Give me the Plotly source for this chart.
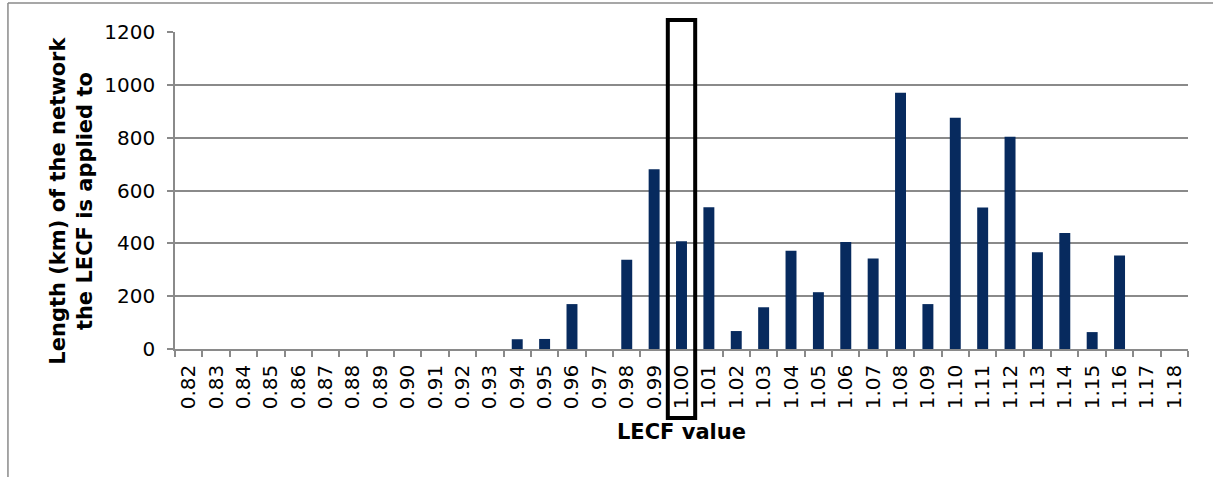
import plotly.graph_objects as go

# LECF values (categories) and network length in km for each
lecf_values = ["0.82", "0.83", "0.84", "0.85", "0.86", "0.87", "0.88", "0.89",
               "0.90", "0.91", "0.92", "0.93", "0.94", "0.95", "0.96", "0.97",
               "0.98", "0.99", "1.00", "1.01", "1.02", "1.03", "1.04", "1.05",
               "1.06", "1.07", "1.08", "1.09", "1.10", "1.11", "1.12", "1.13",
               "1.14", "1.15", "1.16", "1.17", "1.18"]
length_km = [0, 0, 0, 0, 0, 0, 0, 0,
             0, 0, 0, 0, 37, 38, 170, 0,
             338, 680, 408, 537, 68, 158, 372, 215,
             405, 343, 970, 170, 875, 536, 803, 366,
             439, 64, 354, 0, 0]
y_ticks = [0, 200, 400, 600, 800, 1000, 1200]
highlight = "1.00"

GRID = "#8a8a8a"
FONT = "DejaVu Sans"

fig = go.Figure(go.Bar(
    x=lecf_values,
    y=length_km,
    marker=dict(color="#072a5e", line=dict(width=0)),
))

hi = lecf_values.index(highlight)

fig.update_layout(
    width=1213, height=477,
    margin=dict(l=175, r=25, t=32, b=128),
    paper_bgcolor="white", plot_bgcolor="white",
    bargap=0.6,
    showlegend=False,
    font=dict(family=FONT, size=20, color="black"),
    xaxis=dict(
        type="category",
        tickangle=-90,
        tickson="boundaries",
        ticks="outside", ticklen=6, tickcolor=GRID, tickwidth=1.5,
        ticklabelstandoff=6,
        showline=True, linecolor=GRID, linewidth=1.5,
        showgrid=False,
        tickfont=dict(family=FONT, size=20),
        title=dict(text="<b>LECF value</b>", font=dict(family=FONT, size=21), standoff=16),
        automargin=False,
    ),
    yaxis=dict(
        range=[0, 1200],
        tickvals=y_ticks,
        ticks="outside", ticklen=6, tickcolor=GRID, tickwidth=1.5,
        ticklabelstandoff=8,
        showline=True, linecolor=GRID, linewidth=1.5,
        showgrid=True, gridcolor=GRID, gridwidth=1.5,
        zeroline=False,
        tickfont=dict(family=FONT, size=20),
        automargin=False,
    ),
    annotations=[
        # y-axis title
        dict(text="<b>Length (km) of the network<br>the LECF is applied to</b>",
             xref="paper", yref="paper", x=-0.102, y=0.467,
             xanchor="center", yanchor="middle", textangle=-90,
             showarrow=False, font=dict(family=FONT, size=21)),
    ],
    shapes=[
        # frame highlighting the LECF = 1.00 column
        dict(type="rect", xref="x", yref="paper",
             x0=hi - 0.5, x1=hi + 0.5, y0=-0.218, y1=1.038,
             line=dict(color="black", width=4), fillcolor="rgba(0,0,0,0)"),
        # outer chart border (left and top edges)
        dict(type="line", xref="paper", yref="paper",
             x0=-0.1649, x1=-0.1649, y0=-0.5, y1=1.0915,
             line=dict(color="#8a8a8a", width=1.5)),
        dict(type="line", xref="paper", yref="paper",
             x0=-0.1649, x1=1.1, y0=1.0915, y1=1.0915,
             line=dict(color="#8a8a8a", width=1.5)),
    ],
)

fig.write_html("out.html")
